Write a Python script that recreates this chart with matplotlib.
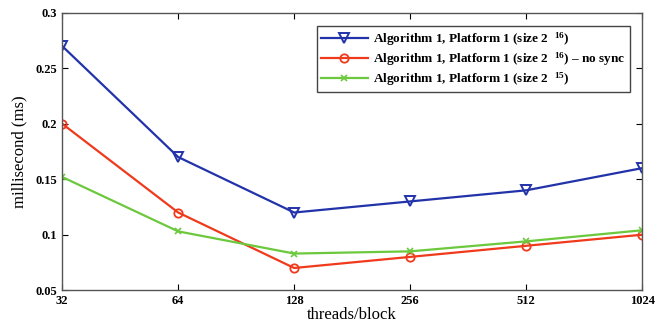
import matplotlib
matplotlib.use("Agg")
import matplotlib.pyplot as plt

plt.rcParams['font.family'] = ['Liberation Serif', 'DejaVu Serif']
plt.rcParams['mathtext.fontset'] = 'custom'
plt.rcParams['mathtext.rm'] = 'Liberation Serif:bold'
plt.rcParams['mathtext.it'] = 'Liberation Serif:bold'

threads = [32, 64, 128, 256, 512, 1024]
tick_labels = ["32", "64", "128", "256", "512", "1024"]
sync_16 = [0.27, 0.17, 0.12, 0.13, 0.14, 0.16]
nosync_16 = [0.20, 0.12, 0.07, 0.08, 0.09, 0.10]
sync_15 = [0.152, 0.103, 0.083, 0.085, 0.094, 0.104]

fig = plt.figure(figsize=(6.62, 3.29), dpi=100)
ax = fig.add_axes([0.094, 0.118, 0.876, 0.843])

ax.plot(threads, sync_16, '-v', color='#2233aa', lw=1.6, ms=7, mfc='none', mew=1.4,
        label="Algorithm 1, Platform 1 (size 2  $^{16}$)")
ax.plot(threads, nosync_16, '-o', color='#f03a1c', lw=1.6, ms=6, mfc='none', mew=1.3,
        label="Algorithm 1, Platform 1 (size 2  $^{16}$) \u2013 no sync")
ax.plot(threads, sync_15, '-x', color='#6cc83c', lw=1.6, ms=4, mew=1.2,
        label="Algorithm 1, Platform 1 (size 2  $^{15}$)")

ax.set_xscale('log', base=2)
ax.set_xlim(32, 1024)
ax.set_ylim(0.05, 0.3)
ax.set_xticks(threads)
ax.set_xticklabels(tick_labels)
ax.minorticks_off()
ax.set_yticks([0.05, 0.1, 0.15, 0.2, 0.25, 0.3])
ax.set_yticklabels(["0.05", "0.1", "0.15", "0.2", "0.25", "0.3"])
ax.tick_params(direction='in', top=True, right=True, length=4, labelsize=9)
for lab in ax.get_xticklabels() + ax.get_yticklabels():
    lab.set_fontweight('bold')
for s in ax.spines.values():
    s.set_color('#555555')
    s.set_linewidth(1.0)

ax.set_xlabel("threads/block", fontsize=12, labelpad=0)
ax.set_ylabel("millisecond (ms)", fontsize=12, labelpad=6)

leg = ax.legend(loc='upper right', bbox_to_anchor=(0.99, 0.975), fancybox=False,
                edgecolor='#444444', framealpha=1, handlelength=3.6, borderpad=0.3,
                labelspacing=0.2, handletextpad=0.4,
                prop={'weight': 'bold', 'size': 9.5})
leg.get_frame().set_linewidth(1.0)

fig.savefig("out.png", dpi=100)
